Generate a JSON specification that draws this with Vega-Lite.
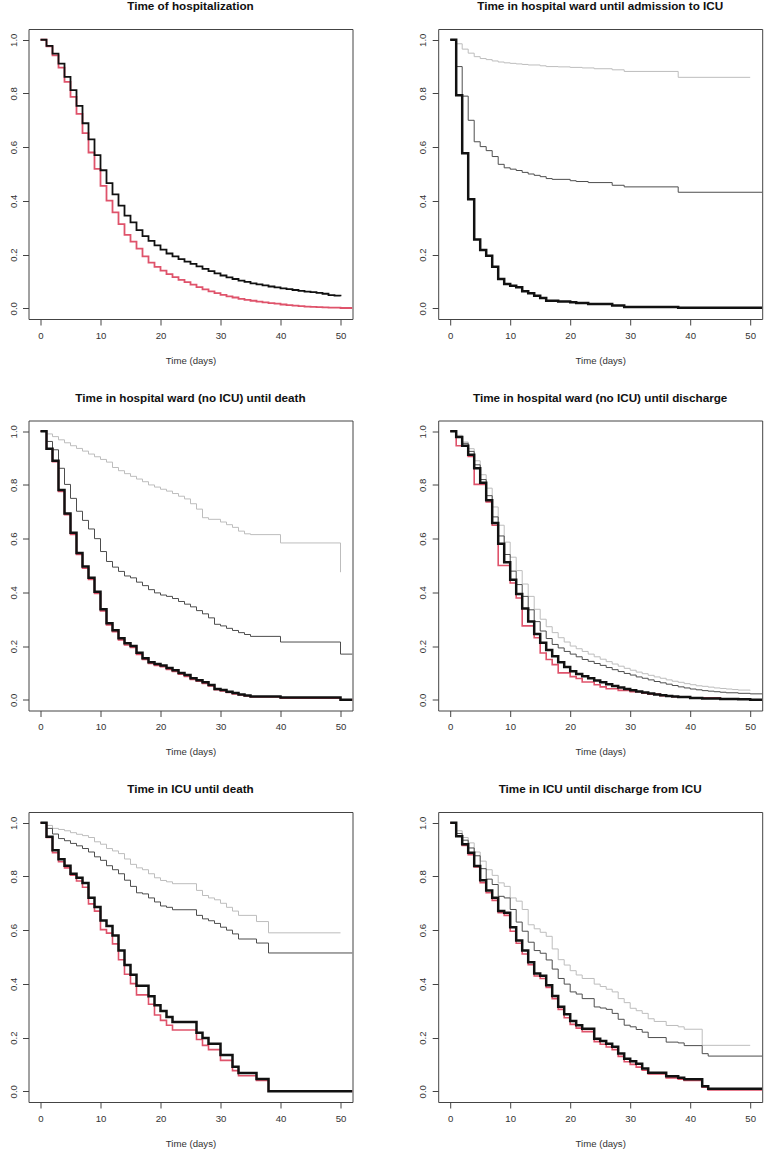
{
"$schema":"https://vega.github.io/schema/vega-lite/v6.json",
"background":"white",
"padding":{"left":7.5,"top":0,"right":1,"bottom":0},
"bounds":"flush",
"columns":2,
"spacing":{"row":101.5,"column":85.7},
"config":{
 "view":{"stroke":"#444","strokeWidth":1},
 "font":"Liberation Sans",
 "title":{"font":"Liberation Sans","fontSize":11.7,"fontWeight":"bold","color":"#111","baseline":"alphabetic","offset":16,"anchor":"middle","frame":"group"},
 "axis":{"domain":false,"grid":false,"ticks":true,"tickColor":"#444","tickSize":6,"labelFont":"Liberation Sans","labelFontSize":9.6,"labelColor":"#333","labelFlush":false,"labelOverlap":false,"titleFont":"Liberation Sans","titleFontSize":9.6,"titleFontWeight":"normal","titleColor":"#333"},
 "axisX":{"labelPadding":5,"titleBaseline":"alphabetic","titleY":44},
 "axisY":{"labelAngle":-90,"labelAlign":"center","labelBaseline":"alphabetic","labelPadding":6.5}
},
"datasets":{
"p1":[
{"line":"rd","day":0,"surv":1},{"line":"rd","day":1,"surv":0.975},{"line":"rd","day":2,"surv":0.942},{"line":"rd","day":3,"surv":0.896},{"line":"rd","day":4,"surv":0.843},{"line":"rd","day":5,"surv":0.787},{"line":"rd","day":6,"surv":0.724},{"line":"rd","day":7,"surv":0.652},{"line":"rd","day":8,"surv":0.58},{"line":"rd","day":9,"surv":0.519},{"line":"rd","day":10,"surv":0.456},{"line":"rd","day":11,"surv":0.401},{"line":"rd","day":12,"surv":0.357},{"line":"rd","day":13,"surv":0.313},{"line":"rd","day":14,"surv":0.273},{"line":"rd","day":15,"surv":0.248},{"line":"rd","day":16,"surv":0.222},{"line":"rd","day":17,"surv":0.193},{"line":"rd","day":18,"surv":0.17},{"line":"rd","day":19,"surv":0.154},{"line":"rd","day":20,"surv":0.14},{"line":"rd","day":21,"surv":0.127},{"line":"rd","day":22,"surv":0.116},{"line":"rd","day":23,"surv":0.106},{"line":"rd","day":24,"surv":0.097},{"line":"rd","day":25,"surv":0.088},{"line":"rd","day":26,"surv":0.079},{"line":"rd","day":27,"surv":0.07},{"line":"rd","day":28,"surv":0.063},{"line":"rd","day":29,"surv":0.056},{"line":"rd","day":30,"surv":0.05},{"line":"rd","day":31,"surv":0.044},{"line":"rd","day":32,"surv":0.04},{"line":"rd","day":33,"surv":0.035},{"line":"rd","day":34,"surv":0.031},{"line":"rd","day":35,"surv":0.028},{"line":"rd","day":36,"surv":0.025},{"line":"rd","day":37,"surv":0.022},{"line":"rd","day":38,"surv":0.019},{"line":"rd","day":39,"surv":0.017},{"line":"rd","day":40,"surv":0.014},{"line":"rd","day":41,"surv":0.012},{"line":"rd","day":42,"surv":0.01},{"line":"rd","day":43,"surv":0.008},{"line":"rd","day":44,"surv":0.006},{"line":"rd","day":45,"surv":0.005},{"line":"rd","day":46,"surv":0.004},{"line":"rd","day":47,"surv":0.003},{"line":"rd","day":48,"surv":0.002},{"line":"rd","day":50,"surv":0.001},{"line":"rd","day":52,"surv":0.001},
{"line":"bk","day":0,"surv":1},{"line":"bk","day":1,"surv":0.977},{"line":"bk","day":2,"surv":0.948},{"line":"bk","day":3,"surv":0.911},{"line":"bk","day":4,"surv":0.862},{"line":"bk","day":5,"surv":0.812},{"line":"bk","day":6,"surv":0.754},{"line":"bk","day":7,"surv":0.689},{"line":"bk","day":8,"surv":0.629},{"line":"bk","day":9,"surv":0.57},{"line":"bk","day":10,"surv":0.514},{"line":"bk","day":11,"surv":0.466},{"line":"bk","day":12,"surv":0.424},{"line":"bk","day":13,"surv":0.382},{"line":"bk","day":14,"surv":0.345},{"line":"bk","day":15,"surv":0.32},{"line":"bk","day":16,"surv":0.291},{"line":"bk","day":17,"surv":0.269},{"line":"bk","day":18,"surv":0.251},{"line":"bk","day":19,"surv":0.234},{"line":"bk","day":20,"surv":0.218},{"line":"bk","day":21,"surv":0.204},{"line":"bk","day":22,"surv":0.193},{"line":"bk","day":23,"surv":0.183},{"line":"bk","day":24,"surv":0.174},{"line":"bk","day":25,"surv":0.165},{"line":"bk","day":26,"surv":0.156},{"line":"bk","day":27,"surv":0.147},{"line":"bk","day":28,"surv":0.138},{"line":"bk","day":29,"surv":0.13},{"line":"bk","day":30,"surv":0.122},{"line":"bk","day":31,"surv":0.115},{"line":"bk","day":32,"surv":0.109},{"line":"bk","day":33,"surv":0.103},{"line":"bk","day":34,"surv":0.098},{"line":"bk","day":35,"surv":0.093},{"line":"bk","day":36,"surv":0.089},{"line":"bk","day":37,"surv":0.085},{"line":"bk","day":38,"surv":0.081},{"line":"bk","day":39,"surv":0.078},{"line":"bk","day":40,"surv":0.074},{"line":"bk","day":41,"surv":0.071},{"line":"bk","day":42,"surv":0.068},{"line":"bk","day":43,"surv":0.065},{"line":"bk","day":44,"surv":0.062},{"line":"bk","day":45,"surv":0.06},{"line":"bk","day":46,"surv":0.057},{"line":"bk","day":47,"surv":0.054},{"line":"bk","day":48,"surv":0.049},{"line":"bk","day":49,"surv":0.047},{"line":"bk","day":50,"surv":0.045}
],
"p2":[
{"line":"lg","day":0,"surv":1},{"line":"lg","day":1,"surv":0.985},{"line":"lg","day":2,"surv":0.965},{"line":"lg","day":3,"surv":0.95},{"line":"lg","day":4,"surv":0.937},{"line":"lg","day":5,"surv":0.93},{"line":"lg","day":6,"surv":0.926},{"line":"lg","day":7,"surv":0.921},{"line":"lg","day":8,"surv":0.917},{"line":"lg","day":9,"surv":0.914},{"line":"lg","day":10,"surv":0.912},{"line":"lg","day":11,"surv":0.91},{"line":"lg","day":12,"surv":0.908},{"line":"lg","day":13,"surv":0.906},{"line":"lg","day":15,"surv":0.903},{"line":"lg","day":16,"surv":0.9},{"line":"lg","day":18,"surv":0.899},{"line":"lg","day":20,"surv":0.897},{"line":"lg","day":22,"surv":0.895},{"line":"lg","day":24,"surv":0.892},{"line":"lg","day":27,"surv":0.888},{"line":"lg","day":29,"surv":0.882},{"line":"lg","day":38,"surv":0.86},{"line":"lg","day":50,"surv":0.86},
{"line":"dg","day":0,"surv":1},{"line":"dg","day":1,"surv":0.9},{"line":"dg","day":2,"surv":0.79},{"line":"dg","day":3,"surv":0.7},{"line":"dg","day":4,"surv":0.62},{"line":"dg","day":5,"surv":0.602},{"line":"dg","day":6,"surv":0.587},{"line":"dg","day":7,"surv":0.565},{"line":"dg","day":8,"surv":0.536},{"line":"dg","day":9,"surv":0.523},{"line":"dg","day":10,"surv":0.518},{"line":"dg","day":11,"surv":0.513},{"line":"dg","day":12,"surv":0.506},{"line":"dg","day":13,"surv":0.5},{"line":"dg","day":14,"surv":0.495},{"line":"dg","day":15,"surv":0.49},{"line":"dg","day":16,"surv":0.483},{"line":"dg","day":17,"surv":0.48},{"line":"dg","day":20,"surv":0.475},{"line":"dg","day":21,"surv":0.472},{"line":"dg","day":23,"surv":0.468},{"line":"dg","day":27,"surv":0.458},{"line":"dg","day":29,"surv":0.452},{"line":"dg","day":38,"surv":0.432},{"line":"dg","day":52,"surv":0.432},
{"line":"bk","day":0,"surv":1},{"line":"bk","day":1,"surv":0.793},{"line":"bk","day":2,"surv":0.577},{"line":"bk","day":3,"surv":0.406},{"line":"bk","day":4,"surv":0.256},{"line":"bk","day":5,"surv":0.217},{"line":"bk","day":6,"surv":0.196},{"line":"bk","day":7,"surv":0.155},{"line":"bk","day":8,"surv":0.109},{"line":"bk","day":9,"surv":0.09},{"line":"bk","day":10,"surv":0.084},{"line":"bk","day":11,"surv":0.078},{"line":"bk","day":12,"surv":0.063},{"line":"bk","day":13,"surv":0.056},{"line":"bk","day":14,"surv":0.047},{"line":"bk","day":15,"surv":0.038},{"line":"bk","day":16,"surv":0.028},{"line":"bk","day":18,"surv":0.025},{"line":"bk","day":20,"surv":0.022},{"line":"bk","day":21,"surv":0.02},{"line":"bk","day":23,"surv":0.016},{"line":"bk","day":27,"surv":0.01},{"line":"bk","day":29,"surv":0.005},{"line":"bk","day":38,"surv":0.002},{"line":"bk","day":52,"surv":0.002}
],
"p3":[
{"line":"lg","day":0,"surv":1},{"line":"lg","day":1,"surv":0.99},{"line":"lg","day":2,"surv":0.98},{"line":"lg","day":3,"surv":0.968},{"line":"lg","day":4,"surv":0.957},{"line":"lg","day":5,"surv":0.946},{"line":"lg","day":6,"surv":0.936},{"line":"lg","day":7,"surv":0.926},{"line":"lg","day":8,"surv":0.915},{"line":"lg","day":9,"surv":0.905},{"line":"lg","day":10,"surv":0.895},{"line":"lg","day":11,"surv":0.885},{"line":"lg","day":12,"surv":0.865},{"line":"lg","day":13,"surv":0.853},{"line":"lg","day":14,"surv":0.842},{"line":"lg","day":15,"surv":0.832},{"line":"lg","day":16,"surv":0.822},{"line":"lg","day":17,"surv":0.812},{"line":"lg","day":18,"surv":0.8},{"line":"lg","day":19,"surv":0.792},{"line":"lg","day":20,"surv":0.784},{"line":"lg","day":21,"surv":0.777},{"line":"lg","day":22,"surv":0.768},{"line":"lg","day":23,"surv":0.758},{"line":"lg","day":24,"surv":0.748},{"line":"lg","day":25,"surv":0.73},{"line":"lg","day":26,"surv":0.71},{"line":"lg","day":27,"surv":0.678},{"line":"lg","day":28,"surv":0.672},{"line":"lg","day":30,"surv":0.662},{"line":"lg","day":31,"surv":0.652},{"line":"lg","day":32,"surv":0.642},{"line":"lg","day":33,"surv":0.628},{"line":"lg","day":34,"surv":0.618},{"line":"lg","day":35,"surv":0.615},{"line":"lg","day":40,"surv":0.584},{"line":"lg","day":50,"surv":0.475},
{"line":"dg","day":0,"surv":1},{"line":"dg","day":1,"surv":0.962},{"line":"dg","day":2,"surv":0.931},{"line":"dg","day":3,"surv":0.862},{"line":"dg","day":4,"surv":0.802},{"line":"dg","day":5,"surv":0.75},{"line":"dg","day":6,"surv":0.702},{"line":"dg","day":7,"surv":0.668},{"line":"dg","day":8,"surv":0.636},{"line":"dg","day":9,"surv":0.6},{"line":"dg","day":10,"surv":0.552},{"line":"dg","day":11,"surv":0.515},{"line":"dg","day":12,"surv":0.494},{"line":"dg","day":13,"surv":0.478},{"line":"dg","day":14,"surv":0.461},{"line":"dg","day":15,"surv":0.454},{"line":"dg","day":16,"surv":0.438},{"line":"dg","day":17,"surv":0.425},{"line":"dg","day":18,"surv":0.41},{"line":"dg","day":19,"surv":0.398},{"line":"dg","day":20,"surv":0.39},{"line":"dg","day":21,"surv":0.385},{"line":"dg","day":22,"surv":0.377},{"line":"dg","day":23,"surv":0.366},{"line":"dg","day":24,"surv":0.356},{"line":"dg","day":25,"surv":0.346},{"line":"dg","day":26,"surv":0.332},{"line":"dg","day":27,"surv":0.32},{"line":"dg","day":28,"surv":0.305},{"line":"dg","day":29,"surv":0.281},{"line":"dg","day":30,"surv":0.275},{"line":"dg","day":31,"surv":0.266},{"line":"dg","day":32,"surv":0.258},{"line":"dg","day":33,"surv":0.25},{"line":"dg","day":34,"surv":0.243},{"line":"dg","day":35,"surv":0.236},{"line":"dg","day":40,"surv":0.215},{"line":"dg","day":50,"surv":0.17},{"line":"dg","day":52,"surv":0.17},
{"line":"rd","day":0,"surv":1},{"line":"rd","day":1,"surv":0.935},{"line":"rd","day":2,"surv":0.887},{"line":"rd","day":3,"surv":0.776},{"line":"rd","day":4,"surv":0.689},{"line":"rd","day":5,"surv":0.616},{"line":"rd","day":6,"surv":0.541},{"line":"rd","day":7,"surv":0.49},{"line":"rd","day":8,"surv":0.448},{"line":"rd","day":9,"surv":0.396},{"line":"rd","day":10,"surv":0.331},{"line":"rd","day":11,"surv":0.279},{"line":"rd","day":12,"surv":0.253},{"line":"rd","day":13,"surv":0.223},{"line":"rd","day":14,"surv":0.204},{"line":"rd","day":15,"surv":0.195},{"line":"rd","day":16,"surv":0.169},{"line":"rd","day":17,"surv":0.15},{"line":"rd","day":18,"surv":0.135},{"line":"rd","day":19,"surv":0.128},{"line":"rd","day":20,"surv":0.123},{"line":"rd","day":21,"surv":0.113},{"line":"rd","day":22,"surv":0.105},{"line":"rd","day":23,"surv":0.095},{"line":"rd","day":24,"surv":0.087},{"line":"rd","day":25,"surv":0.076},{"line":"rd","day":26,"surv":0.069},{"line":"rd","day":27,"surv":0.061},{"line":"rd","day":28,"surv":0.051},{"line":"rd","day":29,"surv":0.037},{"line":"rd","day":30,"surv":0.033},{"line":"rd","day":31,"surv":0.027},{"line":"rd","day":32,"surv":0.022},{"line":"rd","day":33,"surv":0.018},{"line":"rd","day":34,"surv":0.014},{"line":"rd","day":35,"surv":0.01},{"line":"rd","day":40,"surv":0.006},{"line":"rd","day":50,"surv":0},{"line":"rd","day":52,"surv":0},
{"line":"bk","day":0,"surv":1},{"line":"bk","day":1,"surv":0.935},{"line":"bk","day":2,"surv":0.89},{"line":"bk","day":3,"surv":0.781},{"line":"bk","day":4,"surv":0.694},{"line":"bk","day":5,"surv":0.622},{"line":"bk","day":6,"surv":0.547},{"line":"bk","day":7,"surv":0.496},{"line":"bk","day":8,"surv":0.454},{"line":"bk","day":9,"surv":0.402},{"line":"bk","day":10,"surv":0.337},{"line":"bk","day":11,"surv":0.285},{"line":"bk","day":12,"surv":0.259},{"line":"bk","day":13,"surv":0.229},{"line":"bk","day":14,"surv":0.21},{"line":"bk","day":15,"surv":0.2},{"line":"bk","day":16,"surv":0.175},{"line":"bk","day":17,"surv":0.155},{"line":"bk","day":18,"surv":0.14},{"line":"bk","day":19,"surv":0.133},{"line":"bk","day":20,"surv":0.128},{"line":"bk","day":21,"surv":0.118},{"line":"bk","day":22,"surv":0.11},{"line":"bk","day":23,"surv":0.1},{"line":"bk","day":24,"surv":0.092},{"line":"bk","day":25,"surv":0.08},{"line":"bk","day":26,"surv":0.073},{"line":"bk","day":27,"surv":0.065},{"line":"bk","day":28,"surv":0.055},{"line":"bk","day":29,"surv":0.04},{"line":"bk","day":30,"surv":0.036},{"line":"bk","day":31,"surv":0.03},{"line":"bk","day":32,"surv":0.025},{"line":"bk","day":33,"surv":0.02},{"line":"bk","day":34,"surv":0.016},{"line":"bk","day":35,"surv":0.012},{"line":"bk","day":40,"surv":0.008},{"line":"bk","day":50,"surv":0},{"line":"bk","day":52,"surv":0}
],
"p4":[
{"line":"lg","day":0,"surv":1},{"line":"lg","day":1,"surv":0.985},{"line":"lg","day":2,"surv":0.96},{"line":"lg","day":3,"surv":0.935},{"line":"lg","day":4,"surv":0.89},{"line":"lg","day":5,"surv":0.838},{"line":"lg","day":6,"surv":0.788},{"line":"lg","day":7,"surv":0.718},{"line":"lg","day":8,"surv":0.65},{"line":"lg","day":9,"surv":0.587},{"line":"lg","day":10,"surv":0.531},{"line":"lg","day":11,"surv":0.481},{"line":"lg","day":12,"surv":0.431},{"line":"lg","day":13,"surv":0.385},{"line":"lg","day":14,"surv":0.337},{"line":"lg","day":15,"surv":0.3},{"line":"lg","day":16,"surv":0.272},{"line":"lg","day":17,"surv":0.25},{"line":"lg","day":18,"surv":0.231},{"line":"lg","day":19,"surv":0.215},{"line":"lg","day":20,"surv":0.2},{"line":"lg","day":21,"surv":0.19},{"line":"lg","day":22,"surv":0.18},{"line":"lg","day":23,"surv":0.17},{"line":"lg","day":24,"surv":0.16},{"line":"lg","day":25,"surv":0.151},{"line":"lg","day":26,"surv":0.142},{"line":"lg","day":27,"surv":0.133},{"line":"lg","day":28,"surv":0.125},{"line":"lg","day":29,"surv":0.117},{"line":"lg","day":30,"surv":0.11},{"line":"lg","day":31,"surv":0.103},{"line":"lg","day":32,"surv":0.097},{"line":"lg","day":33,"surv":0.091},{"line":"lg","day":34,"surv":0.085},{"line":"lg","day":35,"surv":0.08},{"line":"lg","day":36,"surv":0.074},{"line":"lg","day":37,"surv":0.069},{"line":"lg","day":38,"surv":0.065},{"line":"lg","day":39,"surv":0.06},{"line":"lg","day":40,"surv":0.056},{"line":"lg","day":41,"surv":0.052},{"line":"lg","day":42,"surv":0.05},{"line":"lg","day":43,"surv":0.047},{"line":"lg","day":44,"surv":0.044},{"line":"lg","day":45,"surv":0.042},{"line":"lg","day":46,"surv":0.04},{"line":"lg","day":47,"surv":0.038},{"line":"lg","day":48,"surv":0.036},{"line":"lg","day":50,"surv":0.035},
{"line":"dg","day":0,"surv":1},{"line":"dg","day":1,"surv":0.98},{"line":"dg","day":2,"surv":0.955},{"line":"dg","day":3,"surv":0.925},{"line":"dg","day":4,"surv":0.875},{"line":"dg","day":5,"surv":0.82},{"line":"dg","day":6,"surv":0.76},{"line":"dg","day":7,"surv":0.681},{"line":"dg","day":8,"surv":0.61},{"line":"dg","day":9,"surv":0.541},{"line":"dg","day":10,"surv":0.479},{"line":"dg","day":11,"surv":0.429},{"line":"dg","day":12,"surv":0.385},{"line":"dg","day":13,"surv":0.335},{"line":"dg","day":14,"surv":0.291},{"line":"dg","day":15,"surv":0.256},{"line":"dg","day":16,"surv":0.228},{"line":"dg","day":17,"surv":0.206},{"line":"dg","day":18,"surv":0.193},{"line":"dg","day":19,"surv":0.18},{"line":"dg","day":20,"surv":0.17},{"line":"dg","day":21,"surv":0.16},{"line":"dg","day":22,"surv":0.15},{"line":"dg","day":23,"surv":0.143},{"line":"dg","day":24,"surv":0.135},{"line":"dg","day":25,"surv":0.128},{"line":"dg","day":26,"surv":0.12},{"line":"dg","day":27,"surv":0.112},{"line":"dg","day":28,"surv":0.105},{"line":"dg","day":29,"surv":0.098},{"line":"dg","day":30,"surv":0.092},{"line":"dg","day":31,"surv":0.085},{"line":"dg","day":32,"surv":0.08},{"line":"dg","day":33,"surv":0.074},{"line":"dg","day":34,"surv":0.068},{"line":"dg","day":35,"surv":0.063},{"line":"dg","day":36,"surv":0.058},{"line":"dg","day":37,"surv":0.053},{"line":"dg","day":38,"surv":0.048},{"line":"dg","day":39,"surv":0.044},{"line":"dg","day":40,"surv":0.04},{"line":"dg","day":41,"surv":0.037},{"line":"dg","day":42,"surv":0.034},{"line":"dg","day":43,"surv":0.032},{"line":"dg","day":44,"surv":0.03},{"line":"dg","day":45,"surv":0.028},{"line":"dg","day":46,"surv":0.026},{"line":"dg","day":48,"surv":0.024},{"line":"dg","day":50,"surv":0.022},{"line":"dg","day":52,"surv":0.022},
{"line":"rd","day":0,"surv":1},{"line":"rd","day":1,"surv":0.946},{"line":"rd","day":3,"surv":0.906},{"line":"rd","day":4,"surv":0.802},{"line":"rd","day":6,"surv":0.737},{"line":"rd","day":7,"surv":0.65},{"line":"rd","day":8,"surv":0.5},{"line":"rd","day":10,"surv":0.435},{"line":"rd","day":11,"surv":0.379},{"line":"rd","day":12,"surv":0.275},{"line":"rd","day":14,"surv":0.231},{"line":"rd","day":15,"surv":0.174},{"line":"rd","day":16,"surv":0.15},{"line":"rd","day":17,"surv":0.131},{"line":"rd","day":18,"surv":0.1},{"line":"rd","day":20,"surv":0.086},{"line":"rd","day":21,"surv":0.079},{"line":"rd","day":22,"surv":0.066},{"line":"rd","day":24,"surv":0.056},{"line":"rd","day":25,"surv":0.048},{"line":"rd","day":26,"surv":0.041},{"line":"rd","day":28,"surv":0.035},{"line":"rd","day":30,"surv":0.03},{"line":"rd","day":32,"surv":0.024},{"line":"rd","day":33,"surv":0.021},{"line":"rd","day":35,"surv":0.015},{"line":"rd","day":37,"surv":0.011},{"line":"rd","day":40,"surv":0.007},{"line":"rd","day":45,"surv":0.003},{"line":"rd","day":50,"surv":0},{"line":"rd","day":52,"surv":0},
{"line":"bk","day":0,"surv":1},{"line":"bk","day":1,"surv":0.979},{"line":"bk","day":2,"surv":0.946},{"line":"bk","day":3,"surv":0.912},{"line":"bk","day":4,"surv":0.862},{"line":"bk","day":5,"surv":0.808},{"line":"bk","day":6,"surv":0.743},{"line":"bk","day":7,"surv":0.658},{"line":"bk","day":8,"surv":0.581},{"line":"bk","day":9,"surv":0.512},{"line":"bk","day":10,"surv":0.447},{"line":"bk","day":11,"surv":0.394},{"line":"bk","day":12,"surv":0.34},{"line":"bk","day":13,"surv":0.291},{"line":"bk","day":14,"surv":0.245},{"line":"bk","day":15,"surv":0.212},{"line":"bk","day":16,"surv":0.185},{"line":"bk","day":17,"surv":0.162},{"line":"bk","day":18,"surv":0.14},{"line":"bk","day":19,"surv":0.122},{"line":"bk","day":20,"surv":0.106},{"line":"bk","day":21,"surv":0.096},{"line":"bk","day":22,"surv":0.088},{"line":"bk","day":23,"surv":0.08},{"line":"bk","day":24,"surv":0.072},{"line":"bk","day":25,"surv":0.065},{"line":"bk","day":26,"surv":0.058},{"line":"bk","day":27,"surv":0.051},{"line":"bk","day":28,"surv":0.046},{"line":"bk","day":29,"surv":0.04},{"line":"bk","day":30,"surv":0.035},{"line":"bk","day":31,"surv":0.031},{"line":"bk","day":32,"surv":0.027},{"line":"bk","day":33,"surv":0.023},{"line":"bk","day":34,"surv":0.02},{"line":"bk","day":35,"surv":0.017},{"line":"bk","day":36,"surv":0.014},{"line":"bk","day":37,"surv":0.012},{"line":"bk","day":38,"surv":0.01},{"line":"bk","day":40,"surv":0.007},{"line":"bk","day":42,"surv":0.005},{"line":"bk","day":45,"surv":0.003},{"line":"bk","day":48,"surv":0.002},{"line":"bk","day":50,"surv":0},{"line":"bk","day":52,"surv":0}
],
"p5":[
{"line":"lg","day":0,"surv":1},{"line":"lg","day":1,"surv":0.99},{"line":"lg","day":2,"surv":0.979},{"line":"lg","day":3,"surv":0.975},{"line":"lg","day":4,"surv":0.97},{"line":"lg","day":5,"surv":0.963},{"line":"lg","day":6,"surv":0.957},{"line":"lg","day":7,"surv":0.952},{"line":"lg","day":8,"surv":0.945},{"line":"lg","day":9,"surv":0.929},{"line":"lg","day":10,"surv":0.92},{"line":"lg","day":11,"surv":0.904},{"line":"lg","day":12,"surv":0.895},{"line":"lg","day":13,"surv":0.885},{"line":"lg","day":14,"surv":0.865},{"line":"lg","day":15,"surv":0.845},{"line":"lg","day":16,"surv":0.832},{"line":"lg","day":17,"surv":0.825},{"line":"lg","day":18,"surv":0.81},{"line":"lg","day":19,"surv":0.795},{"line":"lg","day":20,"surv":0.785},{"line":"lg","day":21,"surv":0.78},{"line":"lg","day":22,"surv":0.773},{"line":"lg","day":26,"surv":0.748},{"line":"lg","day":27,"surv":0.729},{"line":"lg","day":28,"surv":0.72},{"line":"lg","day":29,"surv":0.713},{"line":"lg","day":30,"surv":0.7},{"line":"lg","day":31,"surv":0.685},{"line":"lg","day":32,"surv":0.671},{"line":"lg","day":33,"surv":0.655},{"line":"lg","day":36,"surv":0.632},{"line":"lg","day":38,"surv":0.59},{"line":"lg","day":50,"surv":0.59},
{"line":"dg","day":0,"surv":1},{"line":"dg","day":1,"surv":0.979},{"line":"dg","day":2,"surv":0.958},{"line":"dg","day":3,"surv":0.941},{"line":"dg","day":4,"surv":0.933},{"line":"dg","day":5,"surv":0.923},{"line":"dg","day":6,"surv":0.914},{"line":"dg","day":7,"surv":0.904},{"line":"dg","day":8,"surv":0.891},{"line":"dg","day":9,"surv":0.873},{"line":"dg","day":10,"surv":0.86},{"line":"dg","day":11,"surv":0.84},{"line":"dg","day":12,"surv":0.825},{"line":"dg","day":13,"surv":0.81},{"line":"dg","day":14,"surv":0.786},{"line":"dg","day":15,"surv":0.763},{"line":"dg","day":16,"surv":0.739},{"line":"dg","day":17,"surv":0.735},{"line":"dg","day":18,"surv":0.72},{"line":"dg","day":19,"surv":0.705},{"line":"dg","day":20,"surv":0.69},{"line":"dg","day":21,"surv":0.685},{"line":"dg","day":22,"surv":0.676},{"line":"dg","day":26,"surv":0.655},{"line":"dg","day":27,"surv":0.642},{"line":"dg","day":28,"surv":0.635},{"line":"dg","day":29,"surv":0.625},{"line":"dg","day":30,"surv":0.611},{"line":"dg","day":31,"surv":0.6},{"line":"dg","day":32,"surv":0.586},{"line":"dg","day":33,"surv":0.567},{"line":"dg","day":36,"surv":0.552},{"line":"dg","day":38,"surv":0.515},{"line":"dg","day":52,"surv":0.515},
{"line":"rd","day":0,"surv":1},{"line":"rd","day":1,"surv":0.945},{"line":"rd","day":2,"surv":0.888},{"line":"rd","day":3,"surv":0.855},{"line":"rd","day":4,"surv":0.832},{"line":"rd","day":5,"surv":0.805},{"line":"rd","day":6,"surv":0.783},{"line":"rd","day":7,"surv":0.76},{"line":"rd","day":8,"surv":0.698},{"line":"rd","day":9,"surv":0.671},{"line":"rd","day":10,"surv":0.602},{"line":"rd","day":11,"surv":0.589},{"line":"rd","day":12,"surv":0.549},{"line":"rd","day":13,"surv":0.49},{"line":"rd","day":14,"surv":0.436},{"line":"rd","day":15,"surv":0.401},{"line":"rd","day":16,"surv":0.359},{"line":"rd","day":18,"surv":0.324},{"line":"rd","day":19,"surv":0.284},{"line":"rd","day":20,"surv":0.264},{"line":"rd","day":21,"surv":0.246},{"line":"rd","day":22,"surv":0.228},{"line":"rd","day":26,"surv":0.193},{"line":"rd","day":27,"surv":0.171},{"line":"rd","day":28,"surv":0.155},{"line":"rd","day":30,"surv":0.115},{"line":"rd","day":32,"surv":0.077},{"line":"rd","day":33,"surv":0.058},{"line":"rd","day":36,"surv":0.04},{"line":"rd","day":38,"surv":0},{"line":"rd","day":52,"surv":0},
{"line":"bk","day":0,"surv":1},{"line":"bk","day":1,"surv":0.948},{"line":"bk","day":2,"surv":0.898},{"line":"bk","day":3,"surv":0.864},{"line":"bk","day":4,"surv":0.84},{"line":"bk","day":5,"surv":0.81},{"line":"bk","day":6,"surv":0.795},{"line":"bk","day":7,"surv":0.776},{"line":"bk","day":8,"surv":0.721},{"line":"bk","day":9,"surv":0.686},{"line":"bk","day":10,"surv":0.636},{"line":"bk","day":11,"surv":0.615},{"line":"bk","day":12,"surv":0.58},{"line":"bk","day":13,"surv":0.524},{"line":"bk","day":14,"surv":0.47},{"line":"bk","day":15,"surv":0.434},{"line":"bk","day":16,"surv":0.393},{"line":"bk","day":18,"surv":0.354},{"line":"bk","day":19,"surv":0.32},{"line":"bk","day":20,"surv":0.299},{"line":"bk","day":21,"surv":0.277},{"line":"bk","day":22,"surv":0.258},{"line":"bk","day":26,"surv":0.218},{"line":"bk","day":27,"surv":0.198},{"line":"bk","day":28,"surv":0.177},{"line":"bk","day":30,"surv":0.135},{"line":"bk","day":32,"surv":0.091},{"line":"bk","day":33,"surv":0.068},{"line":"bk","day":36,"surv":0.046},{"line":"bk","day":38,"surv":0},{"line":"bk","day":52,"surv":0}
],
"p6":[
{"line":"lg","day":0,"surv":1},{"line":"lg","day":1,"surv":0.97},{"line":"lg","day":2,"surv":0.945},{"line":"lg","day":3,"surv":0.925},{"line":"lg","day":4,"surv":0.891},{"line":"lg","day":5,"surv":0.857},{"line":"lg","day":6,"surv":0.825},{"line":"lg","day":7,"surv":0.804},{"line":"lg","day":8,"surv":0.776},{"line":"lg","day":9,"surv":0.763},{"line":"lg","day":10,"surv":0.72},{"line":"lg","day":11,"surv":0.708},{"line":"lg","day":12,"surv":0.677},{"line":"lg","day":13,"surv":0.62},{"line":"lg","day":14,"surv":0.605},{"line":"lg","day":15,"surv":0.592},{"line":"lg","day":16,"surv":0.577},{"line":"lg","day":17,"surv":0.53},{"line":"lg","day":18,"surv":0.49},{"line":"lg","day":19,"surv":0.47},{"line":"lg","day":20,"surv":0.449},{"line":"lg","day":21,"surv":0.433},{"line":"lg","day":22,"surv":0.42},{"line":"lg","day":24,"surv":0.399},{"line":"lg","day":25,"surv":0.39},{"line":"lg","day":26,"surv":0.38},{"line":"lg","day":27,"surv":0.37},{"line":"lg","day":28,"surv":0.345},{"line":"lg","day":29,"surv":0.33},{"line":"lg","day":30,"surv":0.309},{"line":"lg","day":31,"surv":0.3},{"line":"lg","day":32,"surv":0.29},{"line":"lg","day":33,"surv":0.27},{"line":"lg","day":34,"surv":0.26},{"line":"lg","day":36,"surv":0.245},{"line":"lg","day":38,"surv":0.24},{"line":"lg","day":39,"surv":0.231},{"line":"lg","day":42,"surv":0.171},{"line":"lg","day":50,"surv":0.171},
{"line":"dg","day":0,"surv":1},{"line":"dg","day":1,"surv":0.96},{"line":"dg","day":2,"surv":0.935},{"line":"dg","day":3,"surv":0.906},{"line":"dg","day":4,"surv":0.877},{"line":"dg","day":5,"surv":0.829},{"line":"dg","day":6,"surv":0.79},{"line":"dg","day":7,"surv":0.77},{"line":"dg","day":8,"surv":0.726},{"line":"dg","day":9,"surv":0.72},{"line":"dg","day":10,"surv":0.677},{"line":"dg","day":11,"surv":0.63},{"line":"dg","day":12,"surv":0.596},{"line":"dg","day":13,"surv":0.555},{"line":"dg","day":14,"surv":0.524},{"line":"dg","day":15,"surv":0.514},{"line":"dg","day":16,"surv":0.489},{"line":"dg","day":17,"surv":0.455},{"line":"dg","day":18,"surv":0.42},{"line":"dg","day":19,"surv":0.399},{"line":"dg","day":20,"surv":0.37},{"line":"dg","day":21,"surv":0.362},{"line":"dg","day":22,"surv":0.345},{"line":"dg","day":24,"surv":0.314},{"line":"dg","day":25,"surv":0.31},{"line":"dg","day":26,"surv":0.305},{"line":"dg","day":27,"surv":0.29},{"line":"dg","day":28,"surv":0.268},{"line":"dg","day":29,"surv":0.246},{"line":"dg","day":30,"surv":0.24},{"line":"dg","day":31,"surv":0.23},{"line":"dg","day":32,"surv":0.22},{"line":"dg","day":33,"surv":0.2},{"line":"dg","day":36,"surv":0.183},{"line":"dg","day":38,"surv":0.18},{"line":"dg","day":39,"surv":0.17},{"line":"dg","day":42,"surv":0.14},{"line":"dg","day":43,"surv":0.131},{"line":"dg","day":52,"surv":0.131},
{"line":"rd","day":0,"surv":1},{"line":"rd","day":1,"surv":0.95},{"line":"rd","day":2,"surv":0.915},{"line":"rd","day":3,"surv":0.881},{"line":"rd","day":4,"surv":0.835},{"line":"rd","day":5,"surv":0.777},{"line":"rd","day":6,"surv":0.739},{"line":"rd","day":7,"surv":0.711},{"line":"rd","day":8,"surv":0.665},{"line":"rd","day":9,"surv":0.655},{"line":"rd","day":10,"surv":0.596},{"line":"rd","day":11,"surv":0.551},{"line":"rd","day":12,"surv":0.511},{"line":"rd","day":13,"surv":0.471},{"line":"rd","day":14,"surv":0.429},{"line":"rd","day":15,"surv":0.42},{"line":"rd","day":16,"surv":0.387},{"line":"rd","day":17,"surv":0.345},{"line":"rd","day":18,"surv":0.305},{"line":"rd","day":19,"surv":0.274},{"line":"rd","day":20,"surv":0.249},{"line":"rd","day":21,"surv":0.235},{"line":"rd","day":22,"surv":0.222},{"line":"rd","day":24,"surv":0.185},{"line":"rd","day":25,"surv":0.175},{"line":"rd","day":26,"surv":0.165},{"line":"rd","day":27,"surv":0.155},{"line":"rd","day":28,"surv":0.13},{"line":"rd","day":29,"surv":0.11},{"line":"rd","day":30,"surv":0.1},{"line":"rd","day":31,"surv":0.09},{"line":"rd","day":32,"surv":0.078},{"line":"rd","day":33,"surv":0.064},{"line":"rd","day":36,"surv":0.05},{"line":"rd","day":38,"surv":0.045},{"line":"rd","day":39,"surv":0.04},{"line":"rd","day":42,"surv":0.015},{"line":"rd","day":43,"surv":0.005},{"line":"rd","day":52,"surv":0.005},
{"line":"bk","day":0,"surv":1},{"line":"bk","day":1,"surv":0.95},{"line":"bk","day":2,"surv":0.92},{"line":"bk","day":3,"surv":0.888},{"line":"bk","day":4,"surv":0.839},{"line":"bk","day":5,"surv":0.786},{"line":"bk","day":6,"surv":0.748},{"line":"bk","day":7,"surv":0.721},{"line":"bk","day":8,"surv":0.671},{"line":"bk","day":9,"surv":0.665},{"line":"bk","day":10,"surv":0.611},{"line":"bk","day":11,"surv":0.561},{"line":"bk","day":12,"surv":0.524},{"line":"bk","day":13,"surv":0.48},{"line":"bk","day":14,"surv":0.439},{"line":"bk","day":15,"surv":0.43},{"line":"bk","day":16,"surv":0.395},{"line":"bk","day":17,"surv":0.355},{"line":"bk","day":18,"surv":0.315},{"line":"bk","day":19,"surv":0.287},{"line":"bk","day":20,"surv":0.262},{"line":"bk","day":21,"surv":0.246},{"line":"bk","day":22,"surv":0.233},{"line":"bk","day":24,"surv":0.196},{"line":"bk","day":25,"surv":0.187},{"line":"bk","day":26,"surv":0.177},{"line":"bk","day":27,"surv":0.166},{"line":"bk","day":28,"surv":0.141},{"line":"bk","day":29,"surv":0.121},{"line":"bk","day":30,"surv":0.112},{"line":"bk","day":31,"surv":0.102},{"line":"bk","day":32,"surv":0.085},{"line":"bk","day":33,"surv":0.069},{"line":"bk","day":36,"surv":0.056},{"line":"bk","day":38,"surv":0.05},{"line":"bk","day":39,"surv":0.045},{"line":"bk","day":42,"surv":0.019},{"line":"bk","day":43,"surv":0.009},{"line":"bk","day":52,"surv":0.009}
]
},
"concat":[
 {"width":324,"height":290,"title":"Time of hospitalization","data":{"name":"p1"},
  "encoding":{"x":{"field":"day","type":"quantitative","scale":{"domain":[-2,52],"nice":false,"zero":false},"axis":{"values":[0,10,20,30,40,50],"title":"Time (days)"}},"y":{"field":"surv","type":"quantitative","scale":{"domain":[-0.04,1.04],"nice":false,"zero":false},"axis":{"values":[0,0.2,0.4,0.6,0.8,1],"format":".1f","title":null}}},
  "layer":[
   {"transform":[{"filter":"datum.line==='rd'"}],"mark":{"type":"line","interpolate":"step-after","clip":true,"color":"#DF536B","strokeWidth":1.8},"encoding":{}},
   {"transform":[{"filter":"datum.line==='bk'"}],"mark":{"type":"line","interpolate":"step-after","clip":true,"color":"#111111","strokeWidth":1.8},"encoding":{}}
  ]},
 {"width":324,"height":290,"title":"Time in hospital ward until admission to ICU","data":{"name":"p2"},
  "encoding":{"x":{"field":"day","type":"quantitative","scale":{"domain":[-2,52],"nice":false,"zero":false},"axis":{"values":[0,10,20,30,40,50],"title":"Time (days)"}},"y":{"field":"surv","type":"quantitative","scale":{"domain":[-0.04,1.04],"nice":false,"zero":false},"axis":{"values":[0,0.2,0.4,0.6,0.8,1],"format":".1f","title":null}}},
  "layer":[
   {"transform":[{"filter":"datum.line==='lg'"}],"mark":{"type":"line","interpolate":"step-after","clip":true,"color":"#bdbdbd","strokeWidth":1},"encoding":{}},
   {"transform":[{"filter":"datum.line==='dg'"}],"mark":{"type":"line","interpolate":"step-after","clip":true,"color":"#4d4d4d","strokeWidth":1},"encoding":{}},
   {"transform":[{"filter":"datum.line==='bk'"}],"mark":{"type":"line","interpolate":"step-after","clip":true,"color":"#111111","strokeWidth":2.5},"encoding":{}}
  ]},
 {"width":324,"height":290,"title":"Time in hospital ward (no ICU) until death","data":{"name":"p3"},
  "encoding":{"x":{"field":"day","type":"quantitative","scale":{"domain":[-2,52],"nice":false,"zero":false},"axis":{"values":[0,10,20,30,40,50],"title":"Time (days)"}},"y":{"field":"surv","type":"quantitative","scale":{"domain":[-0.04,1.04],"nice":false,"zero":false},"axis":{"values":[0,0.2,0.4,0.6,0.8,1],"format":".1f","title":null}}},
  "layer":[
   {"transform":[{"filter":"datum.line==='lg'"}],"mark":{"type":"line","interpolate":"step-after","clip":true,"color":"#bdbdbd","strokeWidth":1},"encoding":{}},
   {"transform":[{"filter":"datum.line==='dg'"}],"mark":{"type":"line","interpolate":"step-after","clip":true,"color":"#4d4d4d","strokeWidth":1},"encoding":{}},
   {"transform":[{"filter":"datum.line==='rd'"}],"mark":{"type":"line","interpolate":"step-after","clip":true,"color":"#DF536B","strokeWidth":1.6},"encoding":{}},
   {"transform":[{"filter":"datum.line==='bk'"}],"mark":{"type":"line","interpolate":"step-after","clip":true,"color":"#111111","strokeWidth":2.5},"encoding":{}}
  ]},
 {"width":324,"height":290,"title":"Time in hospital ward (no ICU) until discharge","data":{"name":"p4"},
  "encoding":{"x":{"field":"day","type":"quantitative","scale":{"domain":[-2,52],"nice":false,"zero":false},"axis":{"values":[0,10,20,30,40,50],"title":"Time (days)"}},"y":{"field":"surv","type":"quantitative","scale":{"domain":[-0.04,1.04],"nice":false,"zero":false},"axis":{"values":[0,0.2,0.4,0.6,0.8,1],"format":".1f","title":null}}},
  "layer":[
   {"transform":[{"filter":"datum.line==='lg'"}],"mark":{"type":"line","interpolate":"step-after","clip":true,"color":"#bdbdbd","strokeWidth":1},"encoding":{}},
   {"transform":[{"filter":"datum.line==='dg'"}],"mark":{"type":"line","interpolate":"step-after","clip":true,"color":"#4d4d4d","strokeWidth":1},"encoding":{}},
   {"transform":[{"filter":"datum.line==='rd'"}],"mark":{"type":"line","interpolate":"step-after","clip":true,"color":"#DF536B","strokeWidth":1.6},"encoding":{}},
   {"transform":[{"filter":"datum.line==='bk'"}],"mark":{"type":"line","interpolate":"step-after","clip":true,"color":"#111111","strokeWidth":2.5},"encoding":{}}
  ]},
 {"width":324,"height":290,"title":"Time in ICU until death","data":{"name":"p5"},
  "encoding":{"x":{"field":"day","type":"quantitative","scale":{"domain":[-2,52],"nice":false,"zero":false},"axis":{"values":[0,10,20,30,40,50],"title":"Time (days)"}},"y":{"field":"surv","type":"quantitative","scale":{"domain":[-0.04,1.04],"nice":false,"zero":false},"axis":{"values":[0,0.2,0.4,0.6,0.8,1],"format":".1f","title":null}}},
  "layer":[
   {"transform":[{"filter":"datum.line==='lg'"}],"mark":{"type":"line","interpolate":"step-after","clip":true,"color":"#bdbdbd","strokeWidth":1},"encoding":{}},
   {"transform":[{"filter":"datum.line==='dg'"}],"mark":{"type":"line","interpolate":"step-after","clip":true,"color":"#4d4d4d","strokeWidth":1},"encoding":{}},
   {"transform":[{"filter":"datum.line==='rd'"}],"mark":{"type":"line","interpolate":"step-after","clip":true,"color":"#DF536B","strokeWidth":1.6},"encoding":{}},
   {"transform":[{"filter":"datum.line==='bk'"}],"mark":{"type":"line","interpolate":"step-after","clip":true,"color":"#111111","strokeWidth":2.5},"encoding":{}}
  ]},
 {"width":324,"height":290,"title":"Time in ICU until discharge from ICU","data":{"name":"p6"},
  "encoding":{"x":{"field":"day","type":"quantitative","scale":{"domain":[-2,52],"nice":false,"zero":false},"axis":{"values":[0,10,20,30,40,50],"title":"Time (days)"}},"y":{"field":"surv","type":"quantitative","scale":{"domain":[-0.04,1.04],"nice":false,"zero":false},"axis":{"values":[0,0.2,0.4,0.6,0.8,1],"format":".1f","title":null}}},
  "layer":[
   {"transform":[{"filter":"datum.line==='lg'"}],"mark":{"type":"line","interpolate":"step-after","clip":true,"color":"#bdbdbd","strokeWidth":1},"encoding":{}},
   {"transform":[{"filter":"datum.line==='dg'"}],"mark":{"type":"line","interpolate":"step-after","clip":true,"color":"#4d4d4d","strokeWidth":1},"encoding":{}},
   {"transform":[{"filter":"datum.line==='rd'"}],"mark":{"type":"line","interpolate":"step-after","clip":true,"color":"#DF536B","strokeWidth":1.6},"encoding":{}},
   {"transform":[{"filter":"datum.line==='bk'"}],"mark":{"type":"line","interpolate":"step-after","clip":true,"color":"#111111","strokeWidth":2.5},"encoding":{}}
  ]}
]
}
